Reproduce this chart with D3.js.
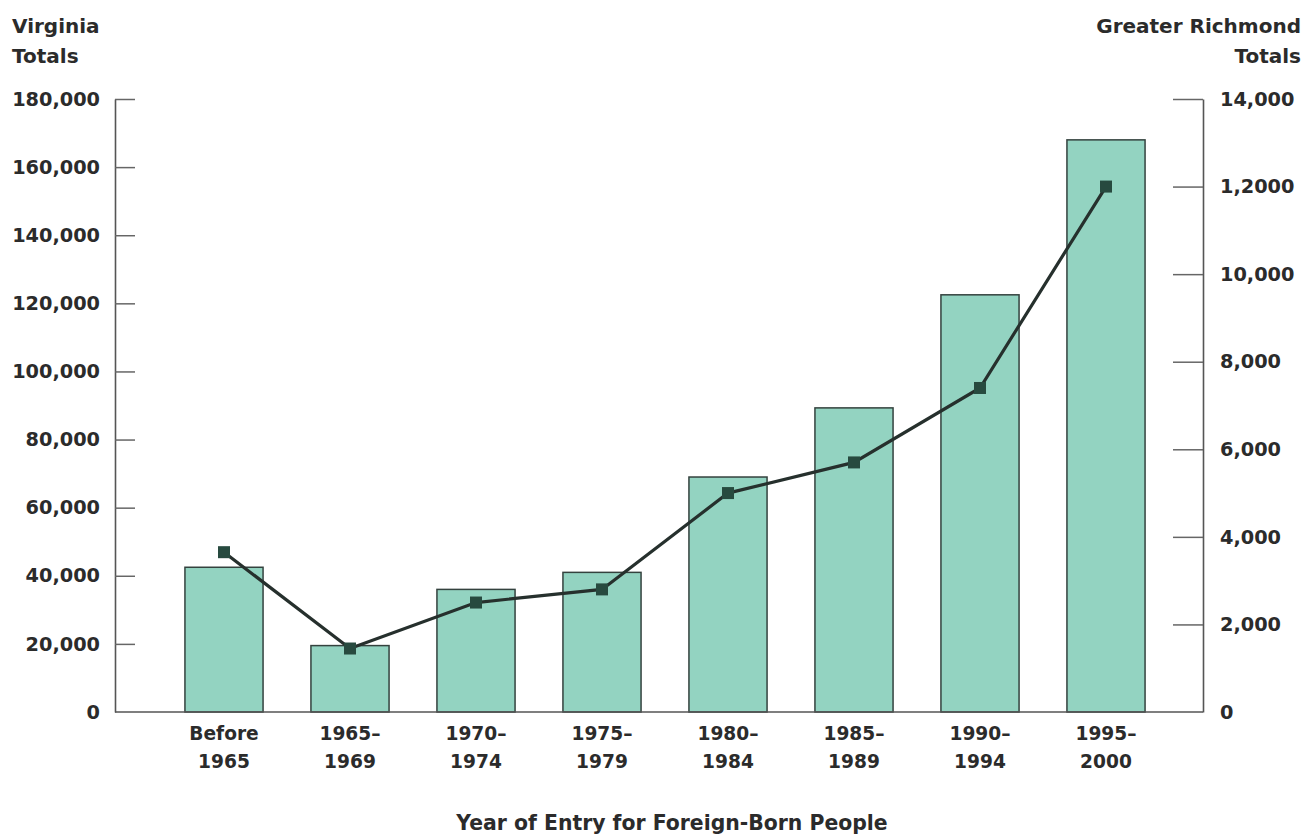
<!DOCTYPE html>
<html>
<head>
<meta charset="utf-8">
<script src="https://cdn.jsdelivr.net/npm/d3@7"></script>
<style>
  html, body { margin: 0; padding: 0; background: #ffffff; }
  svg { display: block; }
  text { font-family: "DejaVu Sans", sans-serif; font-weight: bold; fill: #2b2b2b; }
</style>
</head>
<body>
<svg id="chart" width="1303" height="835"></svg>
<script>
// Period of entry, two-line labels
const categories = ["Before 1965", "1965-1969", "1970-1974", "1975-1979", "1980-1984", "1985-1989", "1990-1994", "1995-2000"];
const categoryLines = [["Before", "1965"], ["1965\u2013", "1969"], ["1970\u2013", "1974"], ["1975\u2013", "1979"], ["1980\u2013", "1984"], ["1985\u2013", "1989"], ["1990\u2013", "1994"], ["1995\u2013", "2000"]];

// Foreign-born people by year of entry: Virginia (bars) and Greater Richmond (line)
const virginiaTotals = [42500, 19500, 36000, 41000, 69000, 89300, 122500, 168000];
const richmondTotals = [3650, 1450, 2500, 2800, 5000, 5700, 7400, 12000];

// Axis ticks
const leftTicks = [0, 20000, 40000, 60000, 80000, 100000, 120000, 140000, 160000, 180000];
const rightTicks = [0, 2000, 4000, 6000, 8000, 10000, 12000, 14000];
const rightTickLabels = ["0", "2,000", "4,000", "6,000", "8,000", "10,000", "1,2000", "14,000"];

const svg = d3.select("#chart");

const plotLeft = 115, plotRight = 1203, plotTop = 99, plotBottom = 712;

const x = d3.scaleBand()
  .domain(categories)
  .range([161, 1169])
  .paddingInner(0.38)
  .paddingOuter(0.19);

const yLeft = d3.scaleLinear().domain([0, 180000]).range([plotBottom, plotTop]);
const yRight = d3.scaleLinear().domain([0, 14000]).range([plotBottom, plotTop]);

// Bars
svg.append("g")
  .selectAll("rect")
  .data(virginiaTotals)
  .join("rect")
  .attr("x", (d, i) => x(categories[i]))
  .attr("y", d => yLeft(d))
  .attr("width", x.bandwidth())
  .attr("height", d => plotBottom - yLeft(d))
  .attr("fill", "#93d3c1")
  .attr("stroke", "#34423e")
  .attr("stroke-width", 1.5);

// Left axis
const leftAxis = d3.axisLeft(yLeft)
  .tickValues(leftTicks)
  .tickFormat(d3.format(","))
  .tickSize(-20)
  .tickSizeOuter(0)
  .tickPadding(15);

const gl = svg.append("g")
  .attr("transform", `translate(${plotLeft},0)`)
  .call(leftAxis);

// Right axis
const rightAxis = d3.axisRight(yRight)
  .tickValues(rightTicks)
  .tickFormat((d, i) => rightTickLabels[i])
  .tickSize(-30)
  .tickSizeOuter(0)
  .tickPadding(17);

const gr = svg.append("g")
  .attr("transform", `translate(${plotRight},0)`)
  .call(rightAxis);

[gl, gr].forEach(g => {
  g.selectAll("line").attr("stroke", "#666").attr("stroke-width", 1.5);
  g.select(".domain").attr("stroke", "#555").attr("stroke-width", 1.6);
  g.selectAll("text")
    .attr("fill", "#2b2b2b")
    .style("font-size", "19.3px")
    .style("font-family", "DejaVu Sans, sans-serif")
    .style("font-weight", "bold");
});
gl.selectAll(".tick line").filter(d => d === 0).remove();
gr.selectAll(".tick line").filter(d => d === 0).remove();

// Baseline
svg.append("line")
  .attr("x1", plotLeft).attr("x2", plotRight)
  .attr("y1", plotBottom).attr("y2", plotBottom)
  .attr("stroke", "#555").attr("stroke-width", 1.6);

// Category labels
const catG = svg.append("g")
  .selectAll("text")
  .data(categories)
  .join("text")
  .attr("x", d => x(d) + x.bandwidth() / 2)
  .attr("text-anchor", "middle")
  .style("font-size", "18.6px");
catG.each(function(d, i) {
  const t = d3.select(this);
  t.append("tspan").attr("x", x(d) + x.bandwidth() / 2).attr("y", 740).text(categoryLines[i][0]);
  t.append("tspan").attr("x", x(d) + x.bandwidth() / 2).attr("y", 768).text(categoryLines[i][1]);
});

// Greater Richmond line
const line = d3.line()
  .x((d, i) => x(categories[i]) + x.bandwidth() / 2)
  .y(d => yRight(d));

svg.append("path")
  .datum(richmondTotals)
  .attr("d", line)
  .attr("fill", "none")
  .attr("stroke", "#26302d")
  .attr("stroke-width", 3.2);

const sq = 12;
svg.append("g")
  .selectAll("rect")
  .data(richmondTotals)
  .join("rect")
  .attr("x", (d, i) => x(categories[i]) + x.bandwidth() / 2 - sq / 2)
  .attr("y", d => yRight(d) - sq / 2)
  .attr("width", sq)
  .attr("height", sq)
  .attr("fill", "#274a3f");

// Axis titles
const title = svg.append("g").style("font-size", "20px");
title.append("text").attr("x", 12).attr("y", 33).text("Virginia");
title.append("text").attr("x", 12).attr("y", 63).text("Totals");
title.append("text").attr("x", 1301).attr("y", 33).attr("text-anchor", "end").text("Greater Richmond");
title.append("text").attr("x", 1301).attr("y", 63).attr("text-anchor", "end").text("Totals");

svg.append("text")
  .attr("x", 672)
  .attr("y", 830)
  .attr("text-anchor", "middle")
  .style("font-size", "20.4px")
  .text("Year of Entry for Foreign-Born People");
</script>
</body>
</html>
